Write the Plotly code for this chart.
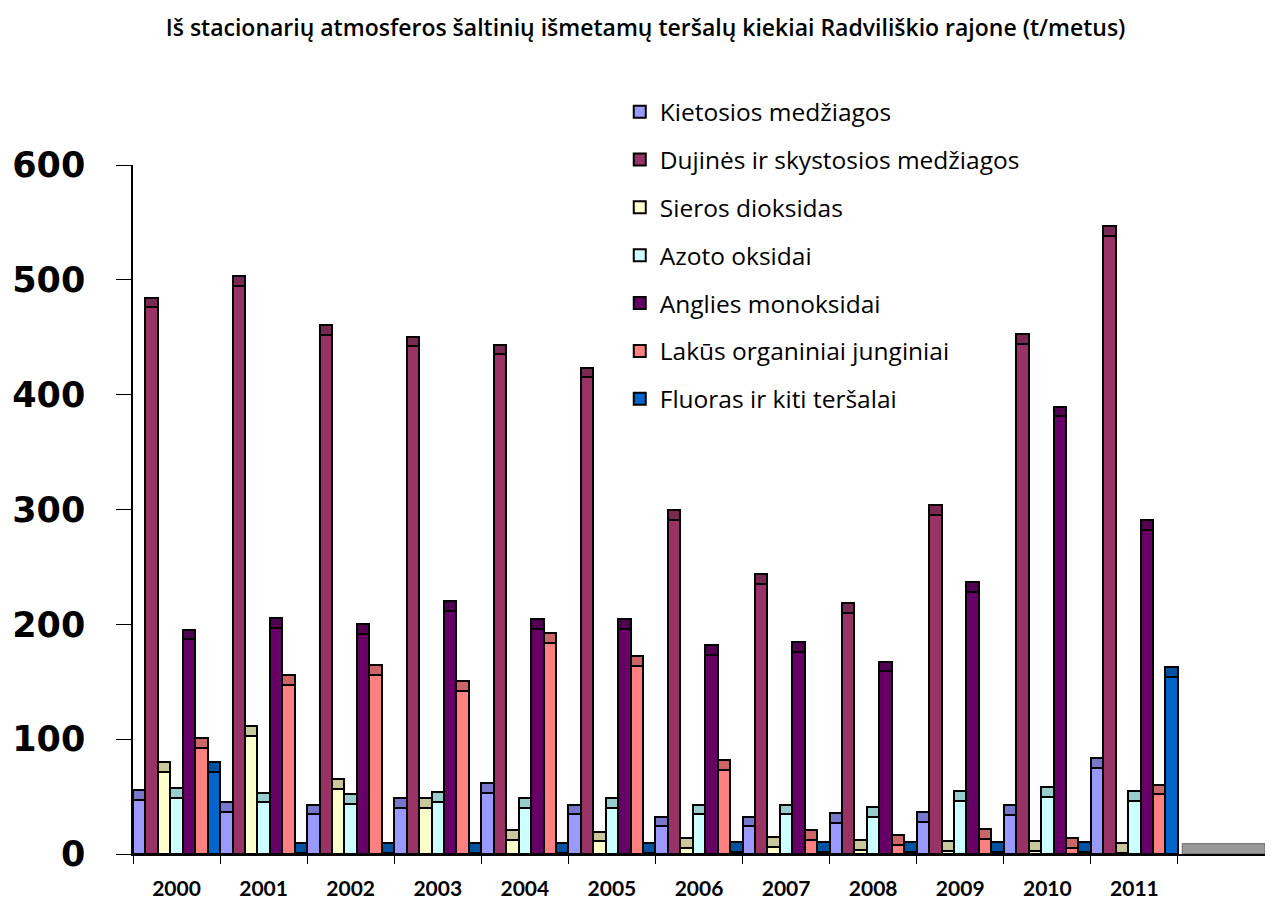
import plotly.graph_objects as go

years = ["2000", "2001", "2002", "2003", "2004", "2005", "2006", "2007", "2008", "2009", "2010", "2011"]

kietosios = [47, 37, 34.5, 40, 53, 34.5, 24, 24, 27, 28, 34, 75]
dujines = [476, 495, 452, 442, 435, 415, 291, 235, 210, 295, 444, 538]
sieros = [71.5, 103, 57, 40, 12, 11, 5.5, 6, 3.5, 3, 3, 1]
azoto = [49, 45, 43.5, 45.5, 40, 40, 34.5, 34.5, 32, 46, 50, 46]
anglies = [187, 197, 192, 212, 196, 196, 173.5, 176, 159, 228, 381, 282]
lakus = [92.7, 147, 156, 142, 184, 164, 73, 12, 8, 13, 5.5, 52]
fluoras = [71.5, 1, 1, 1, 1, 1, 2, 2, 2, 2, 2, 154]

series_names = [
    "Kietosios medžiagos",
    "Dujinės ir skystosios medžiagos",
    "Sieros dioksidas",
    "Azoto oksidai",
    "Anglies monoksidai",
    "Lakūs organiniai junginiai",
    "Fluoras ir kiti teršalai",
]
series_values = [kietosios, dujines, sieros, azoto, anglies, lakus, fluoras]
face_colors = ["#9999FF", "#993366", "#FFFFCC", "#CCFFFF", "#660066", "#FF8080", "#0066CC"]
cap_colors = ["#7777CC", "#7A2952", "#C8C89A", "#99CCCC", "#520052", "#CC6666", "#0052A3"]
CAP = 8.5  # visual thickness of the pseudo-3D top face

fig = go.Figure()
for i, (name, vals) in enumerate(zip(series_names, series_values)):
    fig.add_trace(go.Bar(
        x=years, y=vals, name=name, offsetgroup=str(i), legendgroup=str(i),
        marker=dict(color=face_colors[i], line=dict(color="black", width=2)),
        hoverinfo="x+y+name",
    ))
for i, vals in enumerate(series_values):
    fig.add_trace(go.Bar(
        x=years, y=[CAP] * len(vals), base=vals, offsetgroup=str(i), legendgroup=str(i),
        showlegend=False, hoverinfo="skip",
        marker=dict(color=cap_colors[i], line=dict(color="black", width=2)),
    ))

# grey floor edge on the right (pseudo-3D floor)
fig.add_shape(type="rect", xref="x", yref="y", x0=11.55, x1=12.5, y0=0, y1=9,
              fillcolor="#999999", line=dict(color="#666666", width=1), layer="below")

fig.update_layout(
    width=1265, height=891,
    paper_bgcolor="white", plot_bgcolor="white",
    barmode="group", bargap=0.0, bargroupgap=0.0,
    margin=dict(l=125, r=8, t=157, b=45),
    title=dict(
        text="Iš stacionarių atmosferos šaltinių išmetamų teršalų kiekiai Radviliškio rajone (t/metus)",
        x=0.504, xanchor="center", y=0.9776, yanchor="middle",
        font=dict(family="Open Sans", size=23, color="black", weight=600),
    ),
    legend=dict(
        x=0.430, xanchor="left", y=1.110, yanchor="top",
        font=dict(family="Open Sans", size=24.5, color="black"),
        tracegroupgap=13, bgcolor="rgba(0,0,0,0)", itemclick=False,
    ),
    xaxis=dict(
        type="category", range=[-0.5, 12.5], automargin=False,
        showline=True, linecolor="black", linewidth=1.5,
        ticks="outside", ticklen=8, tickcolor="black", tickson="boundaries",
        tickfont=dict(family="Lato", size=21, color="black", weight="bold"),
        showgrid=False, zeroline=False, ticklabelstandoff=15,
    ),
    yaxis=dict(
        range=[0, 600], tickvals=[0, 100, 200, 300, 400, 500, 600], automargin=False,
        showline=True, linecolor="black", linewidth=1.5,
        ticks="outside", ticklen=15, tickcolor="black",
        tickfont=dict(family="DejaVu Sans", size=35, color="black", weight="bold"),
        showgrid=False, zeroline=False, ticklabelstandoff=24,
    ),
)

fig.write_html("out.html")
